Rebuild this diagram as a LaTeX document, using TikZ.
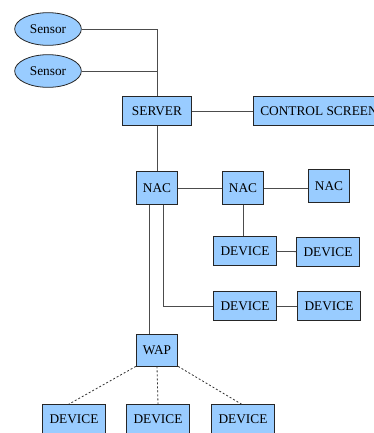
\documentclass[tikz,border=0pt]{standalone}
\usepackage{fontspec}
\setmainfont{Liberation Serif}
\usetikzlibrary{shapes.geometric}
\definecolor{boxblue}{RGB}{153,204,255}
\begin{document}
\begin{tikzpicture}[x=0.75pt,y=-0.75pt,
  box/.style={draw=black!85,fill=boxblue,line width=0.6pt,inner xsep=5pt,inner ysep=0pt,minimum height=21.5pt},
  nacbox/.style={box,minimum width=31pt,minimum height=24.5pt},
  sensor/.style={ellipse,draw=black!85,fill=boxblue,line width=0.6pt,inner sep=0pt,minimum width=50pt,minimum height=24.5pt},
  link/.style={draw=black!70,line width=0.6pt},
  wifi/.style={draw=black!80,line width=0.6pt,dash pattern=on 1.5pt off 1.5pt}]
\useasboundingbox (0,0) rectangle (374,433);
\node[sensor] (s1) at (48,29) {Sensor};
\node[sensor] (s2) at (48,71) {Sensor};
\node[box,minimum width=52pt] (server) at (157,111) {SERVER};
\node[box] (screen) at (319,111) {CONTROL SCREEN};
\node[nacbox] (nac1) at (157,188) {NAC};
\node[nacbox] (nac2) at (243,188) {NAC};
\node[nacbox] (nac3) at (329,186) {NAC};
\node[box] (deva) at (245,251) {DEVICE};
\node[box] (devb) at (328,252) {DEVICE};
\node[box] (devc) at (245,306) {DEVICE};
\node[box] (devd) at (329,306) {DEVICE};
\node[box,minimum height=24pt] (wap) at (157,350) {WAP};
\node[box] (deve) at (74,419) {DEVICE};
\node[box] (devf) at (158,419) {DEVICE};
\node[box] (devg) at (243,419) {DEVICE};
\draw[link] (s1.east) -| (server.north);
\draw[link] (s2.east) -- (s2.east -| server.north);
\draw[link] (server) -- (screen);
\draw[link] (server) -- (nac1);
\draw[link] (nac1) -- (nac2);
\draw[link] (nac2) -- (nac2 -| nac3.west);
\draw[link] (nac2.south) -- (nac2.south |- deva.north);
\draw[link] (deva) -- (devb);
\draw[link] ([xshift=5pt]nac1.south) |- (devc.west);
\draw[link] (devc) -- (devd);
\draw[link] ([xshift=-6pt]nac1.south) -- ([xshift=-6pt]wap.north);
\draw[wifi] (wap.south west) -- ([xshift=-4pt]deve.north);
\draw[wifi] (wap.south) -- (devf.north);
\draw[wifi] (wap.south east) -- ([xshift=-1pt]devg.north);
\end{tikzpicture}
\end{document}
